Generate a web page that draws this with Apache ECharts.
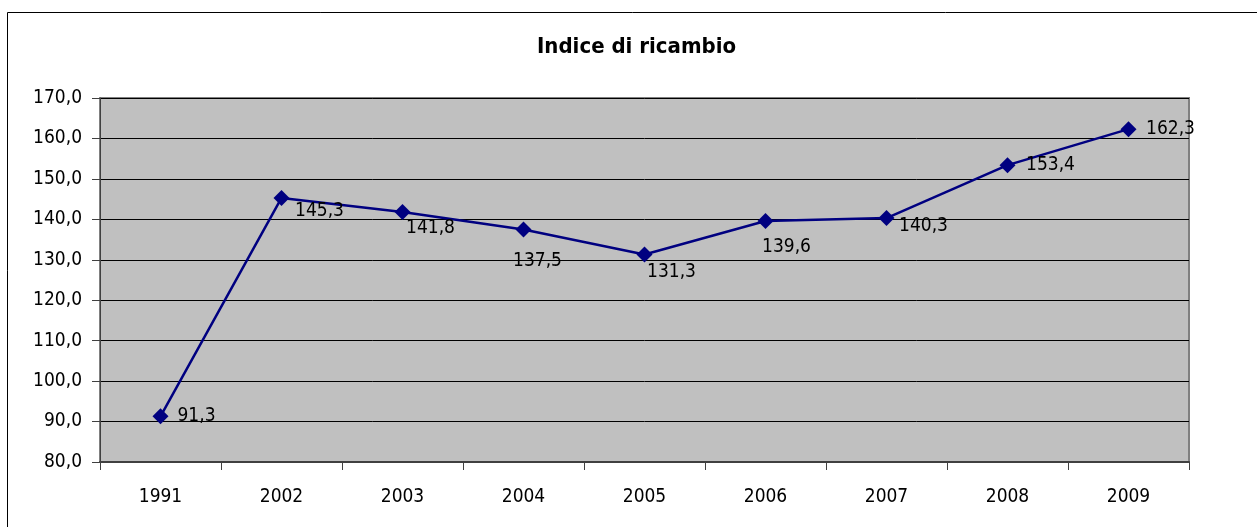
<!DOCTYPE html>
<html>
<head>
<meta charset="utf-8">
<script src="https://cdn.jsdelivr.net/npm/echarts@6/dist/echarts.min.js"></script>
<style>
  html, body { margin: 0; padding: 0; background: #fff; }
  #chart { width: 1257px; height: 527px; }
</style>
</head>
<body>
<div id="chart"></div>
<script>
// dati del grafico
var anni = ['1991', '2002', '2003', '2004', '2005', '2006', '2007', '2008', '2009'];
var indice = [91.3, 145.3, 141.8, 137.5, 131.3, 139.6, 140.3, 153.4, 162.3];
var yTicks = [80, 90, 100, 110, 120, 130, 140, 150, 160, 170];

// spostamento delle etichette rispetto al punto (come in Excel)
var labelOffsets = [
    [36, 0], [38, 13], [28, 16], [14, 32], [27, 18],
    [21, 26], [37, 8], [43, 0], [42, 0]
];

var font = 'DejaVu Sans Condensed, DejaVu Sans, sans-serif';

function fmt(v) {
    return v.toFixed(1).replace('.', ',');
}

var chart = echarts.init(document.getElementById('chart'), null, { renderer: 'canvas' });

var option = {
    backgroundColor: '#ffffff',
    animation: false,
    title: {
        text: 'Indice di ricambio',
        left: 532,
        top: 31,
        textStyle: {
            fontFamily: font,
            fontWeight: 'bold',
            fontSize: 22,
            color: '#000'
        }
    },
    graphic: [{
        // bordo esterno: si vedono solo il lato sinistro e quello superiore
        type: 'polyline',
        z: -1,
        shape: { points: [[7.5, 600], [7.5, 12.5], [1300, 12.5]] },
        style: { fill: null, stroke: '#000', lineWidth: 1 }
    }],
    grid: {
        left: 100,
        top: 98,
        right: 68,
        bottom: 65,
        show: true,
        backgroundColor: '#c0c0c0',
        borderColor: '#808080',
        borderWidth: 2
    },
    xAxis: {
        type: 'category',
        data: anni,
        boundaryGap: true,
        axisLine: { lineStyle: { color: '#404040', width: 2 } },
        axisTick: { show: true, length: 8, inside: false, lineStyle: { color: '#404040', width: 1 } },
        axisLabel: {
            margin: 26,
            fontFamily: font,
            fontSize: 19,
            color: '#000'
        },
        splitLine: { show: false }
    },
    yAxis: {
        type: 'value',
        min: yTicks[0],
        max: yTicks[yTicks.length - 1],
        interval: 10,
        axisLine: { show: true, lineStyle: { color: '#404040', width: 1 } },
        axisTick: { show: true, length: 8, lineStyle: { color: '#404040', width: 1 } },
        axisLabel: {
            margin: 18,
            fontFamily: font,
            fontSize: 19,
            color: '#000',
            formatter: function (v) { return fmt(v); }
        },
        splitLine: { show: true, lineStyle: { color: '#000', width: 1 } }
    },
    series: [{
        type: 'line',
        data: indice.map(function (v, i) {
            return {
                value: v,
                label: { offset: labelOffsets[i] }
            };
        }),
        symbol: 'diamond',
        symbolSize: 16,
        lineStyle: { color: '#000080', width: 2.5 },
        itemStyle: { color: '#000080' },
        label: {
            show: true,
            position: 'inside',
            align: 'center',
            verticalAlign: 'middle',
            fontFamily: font,
            fontSize: 19,
            color: '#000',
            formatter: function (p) { return fmt(p.value); }
        }
    }]
};

chart.setOption(option);
</script>
</body>
</html>
